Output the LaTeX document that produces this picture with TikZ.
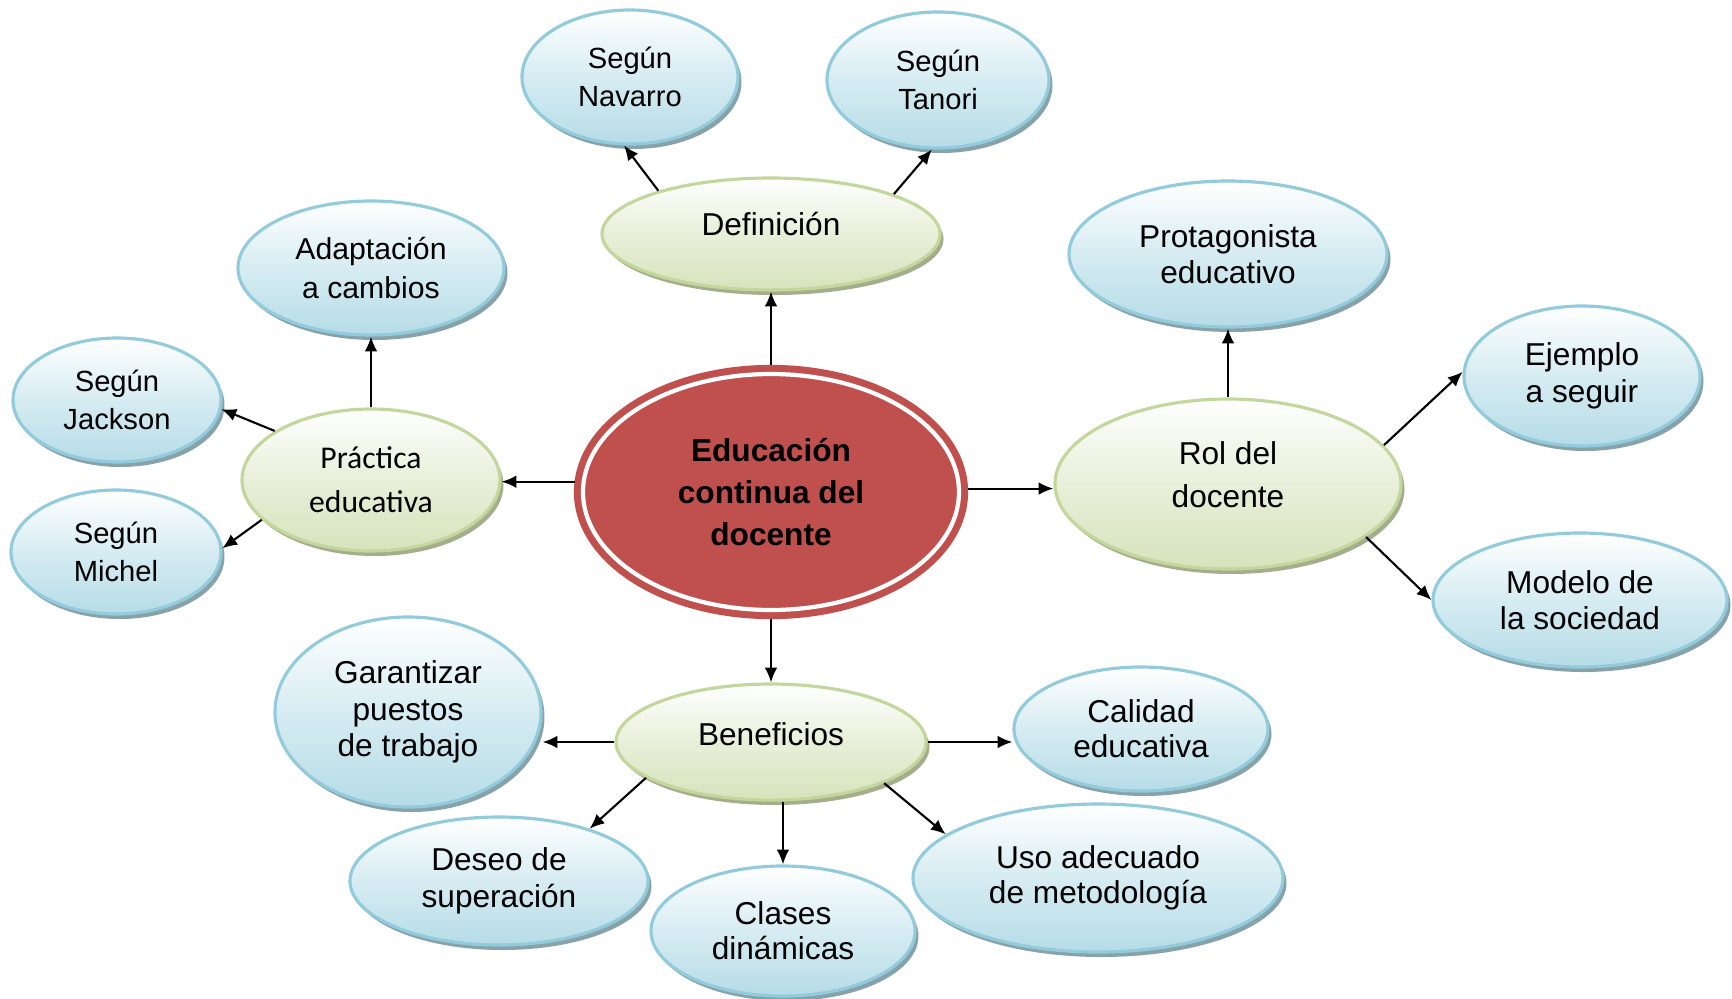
\documentclass[tikz,border=0pt]{standalone}
\usepackage{fontspec}
\setmainfont{Liberation Sans}
\newfontfamily\carlito{Carlito}
\usepackage{tikz}
\usepackage{xcolor}
\usetikzlibrary{shapes,arrows,arrows.meta,shadows}
\definecolor{rojofondo}{RGB}{192,80,77}
\definecolor{azulborde}{RGB}{146,203,220}
\definecolor{azulmedio}{RGB}{214,236,242}
\definecolor{azulfondo}{RGB}{182,220,231}
\definecolor{azulsombra}{RGB}{136,162,170}
\definecolor{verdeborde}{RGB}{195,214,155}
\definecolor{verdemedio}{RGB}{232,239,217}
\definecolor{verdefondo}{RGB}{214,227,188}
\definecolor{verdesombra}{RGB}{165,174,140}
\tikzstyle{azul} = [ellipse, draw=azulborde, line width=0.9pt,
    top color=white, bottom color=azulfondo, middle color=azulmedio,
    drop shadow={shadow xshift=0.035cm, shadow yshift=-0.05cm, fill=azulsombra, opacity=1},
    align=center, inner sep=1pt, font=\fontsize{9}{10.4}\selectfont]
\tikzstyle{verde} = [ellipse, draw=verdeborde, line width=0.9pt,
    top color=white, bottom color=verdefondo, middle color=verdemedio,
    drop shadow={shadow xshift=0.035cm, shadow yshift=-0.05cm, fill=verdesombra, opacity=1},
    align=center, inner sep=1pt, font=\fontsize{9}{10.4}\selectfont]
\tikzstyle{central} = [ellipse, fill=rojofondo, draw=rojofondo, double=white,
    double distance=1.2pt, line width=2pt, outer sep=2.6pt,
    align=center, inner sep=1pt, font=\bfseries\fontsize{9}{11.9}\selectfont]
\tikzset{
  myarrow/.style={->, >={Latex[length=4.2pt,width=3.6pt]}, line width=0.6pt},
	}

\begin{document}
\begin{tikzpicture}[node distance = 1cm]
    \useasboundingbox (-7.71,-5.06) rectangle (9.61,4.92);
    \node[central, minimum width=3.76cm, minimum height=2.36cm](centro){Educación\\continua del\\docente};
    % definicion
    \node[verde, minimum width=3.38cm, minimum height=1.12cm, text height=8pt, text depth=7pt, above of=centro, yshift=1.58cm](def){Definición};
    \draw[myarrow](centro.north)--(def.south);
    \node[azul, minimum width=2.16cm, minimum height=1.34cm, font=\fontsize{8.3}{11}\selectfont, above of=def, xshift=-1.41cm, yshift=0.57cm](nav){Según\\Navarro};
    \draw[myarrow](def.159)--(nav.265);
    \node[azul, minimum width=2.22cm, minimum height=1.36cm, font=\fontsize{8.3}{11}\selectfont, above of=def, xshift=1.67cm, yshift=0.54cm](tan){Según\\Tanori};
    \draw[myarrow](def.18)--(tan.265);
    % practica
    \node[verde, minimum width=2.58cm, minimum height=1.42cm, font=\carlito\fontsize{9}{12.5}\selectfont, left of=centro, xshift=-3cm, yshift=0.12cm](prac){Práctica\\educativa};
    \draw[myarrow](centro.177)--(centro.177 -| prac.east);
    \node[azul, minimum width=2.66cm, minimum height=1.34cm, font=\fontsize{8.6}{11}\selectfont, above of=prac, yshift=1.12cm](adap){Adaptación\\a cambios};
    \draw[myarrow](prac.north)--(adap.south);
    \node[azul, minimum width=2.08cm, minimum height=1.24cm, font=\fontsize{8.3}{11}\selectfont, left of=prac, xshift=-1.54cm, yshift=0.8cm](jack){Según\\Jackson};
    \draw[myarrow](prac.153)--(jack.355);
    \node[azul, minimum width=2.1cm, minimum height=1.24cm, font=\fontsize{8.3}{10.7}\selectfont, left of=prac, xshift=-1.55cm, yshift=-0.72cm](mich){Según\\Michel};
    \draw[myarrow](prac.200)--(mich.2);
    % rol
    \node[verde, minimum width=3.46cm, minimum height=1.7cm, font=\fontsize{9}{12.2}\selectfont, text depth=5.5pt, right of=centro, xshift=3.57cm, yshift=0.08cm](rol){Rol del\\docente};
    \draw[myarrow](centro.1)--(centro.1 -| rol.west);
    \node[azul, minimum width=3.18cm, minimum height=1.46cm, above of=rol, yshift=1.3cm](prot){Protagonista\\educativo};
    \draw[myarrow](rol.north)--(prot.south);
    \node[azul, minimum width=2.36cm, minimum height=1.4cm, right of=rol, xshift=2.54cm, yshift=1.08cm](ejem){Ejemplo\\a seguir};
    \draw[myarrow](rol.14)--(ejem.178);
    \node[azul, minimum width=2.94cm, minimum height=1.34cm, right of=rol, xshift=2.52cm, yshift=-1.16cm](mod){Modelo de\\la sociedad};
    \draw[myarrow](rol.339)--(mod.west);
    % beneficios
    \node[verde, minimum width=3.1cm, minimum height=1.16cm, text height=8pt, text depth=6pt, below of=centro, yshift=-1.5cm](ben){Beneficios};
    \draw[myarrow](centro.south)--(ben.north);
    \node[azul, minimum width=2.66cm, minimum height=1.9cm, left of=ben, xshift=-2.63cm, yshift=0.3cm](gar){Garantizar\\puestos\\de trabajo};
    \draw[myarrow](ben.west)--(ben.west -| gar.east);
    \node[azul, minimum width=2.54cm, minimum height=1.24cm, font=\fontsize{9}{10}\selectfont, right of=ben, xshift=2.7cm, yshift=0.13cm](cal){Calidad\\educativa};
    \draw[myarrow](ben.east)--(ben.east -| cal.west);
    \node[azul, minimum width=2.98cm, minimum height=1.28cm, below of=ben, xshift=-2.72cm, yshift=-0.39cm](des){Deseo de\\superación};
    \draw[myarrow](ben.196)--(des.30);
    \node[azul, minimum width=2.64cm, minimum height=1.3cm, font=\fontsize{9}{10}\selectfont, below of=ben, xshift=0.12cm, yshift=-0.89cm](cla){Clases\\dinámicas};
    \draw[myarrow](cla.north |- ben.south)--(cla.north);
    \node[azul, minimum width=3.7cm, minimum height=1.48cm, font=\fontsize{9}{10}\selectfont, below of=ben, xshift=3.27cm, yshift=-0.36cm](uso){Uso adecuado\\de metodología};
    \draw[myarrow](ben.340)--(uso.164);
\end{tikzpicture}
\end{document}
